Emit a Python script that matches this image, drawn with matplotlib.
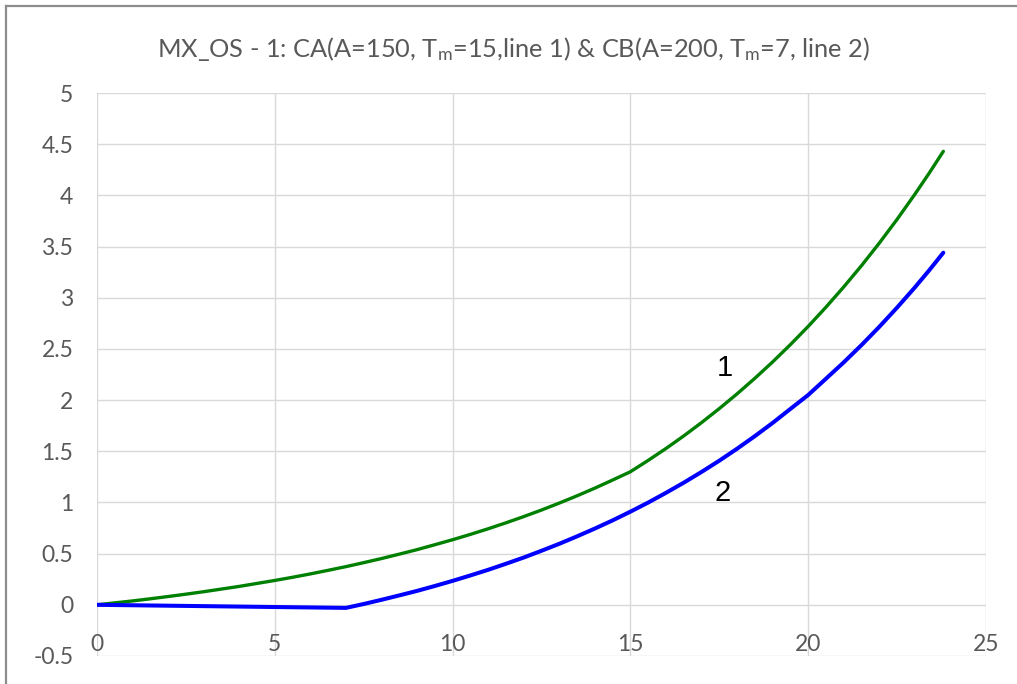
import matplotlib
matplotlib.use("Agg")
import matplotlib.pyplot as plt
from matplotlib.lines import Line2D

# ---- data ----
x_line1 = [0, 0.5, 1, 1.5, 2, 2.5, 3, 3.5, 4, 4.5, 5, 5.5, 6, 6.5, 7, 7.5,
           8, 8.5, 9, 9.5, 10, 10.5, 11, 11.5, 12, 12.5, 13, 13.5, 14, 14.5, 15,
           15.5, 16, 16.5, 17, 17.5, 18, 18.5, 19, 19.5, 20, 20.5, 21, 21.5,
           22, 22.5, 23, 23.4, 23.8]
y_line1 = [0, 0.019, 0.038, 0.059, 0.081, 0.104, 0.128, 0.154, 0.180, 0.209,
           0.238, 0.269, 0.302, 0.337, 0.373, 0.412, 0.452, 0.495, 0.539, 0.587,
           0.636, 0.688, 0.743, 0.801, 0.862, 0.926, 0.994, 1.065, 1.140, 1.219,
           1.300, 1.411, 1.527, 1.650, 1.780, 1.917, 2.061, 2.213, 2.373, 2.542,
           2.720, 2.908, 3.106, 3.314, 3.534, 3.766, 4.011, 4.216, 4.430]

x_line2 = [0, 7, 7.5, 8, 8.5, 9, 9.5, 10, 10.5, 11, 11.5, 12, 12.5, 13, 13.5,
           14, 14.5, 15, 15.5, 16, 16.5, 17, 17.5, 18, 18.5, 19, 19.5, 20,
           20.5, 21, 21.5, 22, 22.5, 23, 23.4, 23.8]
y_line2 = [0, -0.030, 0.008, 0.049, 0.092, 0.136, 0.184, 0.234, 0.287, 0.342,
           0.401, 0.462, 0.528, 0.596, 0.669, 0.745, 0.825, 0.910, 0.999, 1.094,
           1.193, 1.298, 1.408, 1.525, 1.648, 1.777, 1.914, 2.050, 2.209, 2.369,
           2.538, 2.716, 2.904, 3.101, 3.267, 3.440]

x_ticks = [0, 5, 10, 15, 20, 25]
y_ticks = [-0.5, 0, 0.5, 1, 1.5, 2, 2.5, 3, 3.5, 4, 4.5, 5]
y_tick_labels = ["-0.5", "0", "0.5", "1", "1.5", "2", "2.5", "3", "3.5", "4", "4.5", "5"]

line_labels = ["1", "2"]
label_pos = [(17.66, 2.31), (17.58, 1.09)]

title = (r"MX_OS - 1: CA(A=150, $\mathregular{T_m}$=15,line 1) & "
         r"CB(A=200, $\mathregular{T_m}$=7, line 2)")

plt.rcParams['font.family'] = ['Lato', 'DejaVu Sans']

W, H = 1017, 684
fig = plt.figure(figsize=(W / 100, H / 100), dpi=100)
fig.patch.set_facecolor("white")

# outer chart border (left and top visible)
border_col = "#8c8c8c"
fig.add_artist(Line2D([6 / W, 6 / W], [0, 1 - 6 / H], transform=fig.transFigure,
                      color=border_col, lw=1.6))
fig.add_artist(Line2D([6 / W, 1], [1 - 6 / H, 1 - 6 / H], transform=fig.transFigure,
                      color=border_col, lw=1.6))

left, right, top, bottom = 97, 986, 93, 656
ax = fig.add_axes([left / W, 1 - bottom / H, (right - left) / W, (bottom - top) / H])

ax.set_xlim(0, 25)
ax.set_ylim(-0.5, 5)
grid_col = "#d9d9d9"
ax.set_xticks(x_ticks)
ax.set_yticks(y_ticks)
ax.set_yticklabels(y_tick_labels)
ax.grid(True, color=grid_col, lw=1.0)
ax.set_axisbelow(True)
for s in ax.spines.values():
    s.set_visible(False)
ax.tick_params(axis="both", length=0, colors="#595959", labelsize=16.5)
ax.tick_params(axis="y", pad=17)
ax.tick_params(axis="x", pad=-8.3)
for lab in ax.get_xticklabels():
    lab.set_verticalalignment("center")

ax.plot(x_line1, y_line1, color="#008000", lw=2.4, solid_capstyle="round",
        solid_joinstyle="round", zorder=3)
ax.plot(x_line2, y_line2, color="#0000ff", lw=2.9, solid_capstyle="round",
        solid_joinstyle="round", zorder=3)

for t, (lx, ly) in zip(line_labels, label_pos):
    ax.text(lx, ly, t, fontsize=21, color="black", ha="center", va="center",
            family=["Liberation Sans", "DejaVu Sans"], zorder=4)

fig.text(514 / W, 1 - 49 / H, title, ha="center", va="center",
         fontsize=18.3, color="#595959")

fig.savefig("out.png", dpi=100, facecolor="white")
